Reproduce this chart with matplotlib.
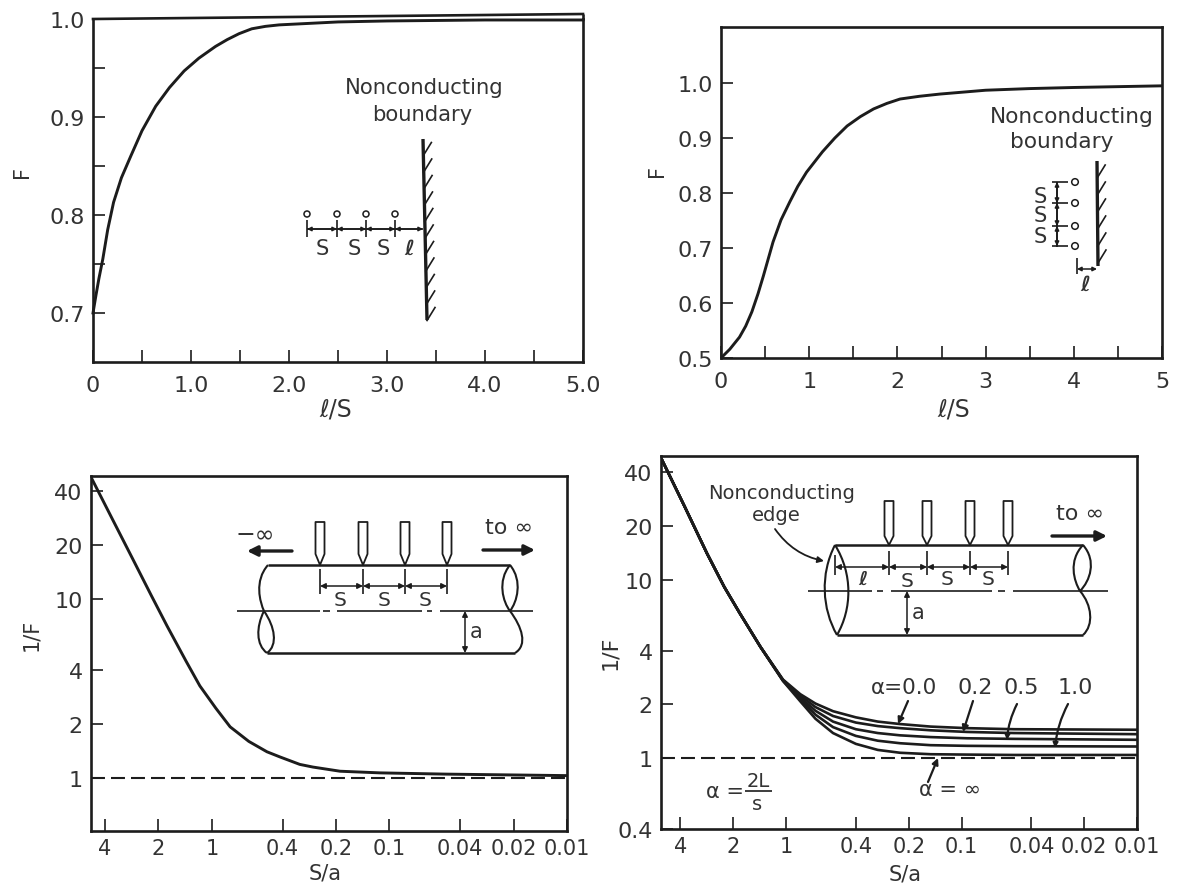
""" Four figures of the correction factor F for probes near nonconducting boundaries.
"""
import matplotlib.pyplot as plt
from matplotlib.patches import Circle, PathPatch
from matplotlib.path import Path

W, H = 1183, 887
INK = '#1c1c1c'
TEXT = '#333333'

# Panel A: F against l/S, line perpendicular to the boundary
a_x = [0, 0.03, 0.06, 0.1, 0.15, 0.21, 0.29, 0.385, 0.5, 0.64, 0.78, 0.93, 1.08, 1.25, 1.37, 1.49, 1.62, 1.76, 1.9, 2.1, 2.5, 3, 4, 5]
a_f = [0.70, 0.718, 0.735, 0.755, 0.785, 0.813, 0.838, 0.86, 0.886, 0.911, 0.93, 0.947, 0.96, 0.972, 0.979, 0.985, 0.99, 0.9925, 0.994, 0.995, 0.997, 0.998, 0.999, 0.999]
a_yticks = [0.7, 0.75, 0.8, 0.85, 0.9, 0.95, 1.0]
a_ylabels = ['0.7', '', '0.8', '', '0.9', '', '1.0']
a_xticks = [0, 0.5, 1, 1.5, 2, 2.5, 3, 3.5, 4, 4.5, 5]
a_xlabels = ['0', '', '1.0', '', '2.0', '', '3.0', '', '4.0', '', '5.0']

# Panel B: F against l/S, line parallel to the boundary
b_x = [0, 0.1, 0.21, 0.28, 0.35, 0.42, 0.48, 0.59, 0.68, 0.78, 0.87, 0.97, 1.15, 1.29, 1.43, 1.58, 1.73, 1.88, 2.03, 2.25, 2.48, 3, 3.5, 4, 5]
b_f = [0.5, 0.516, 0.538, 0.558, 0.584, 0.617, 0.649, 0.711, 0.751, 0.784, 0.812, 0.838, 0.875, 0.9, 0.922, 0.939, 0.953, 0.963, 0.971, 0.976, 0.98, 0.987, 0.99, 0.992, 0.995]
b_yticks = [0.5, 0.6, 0.7, 0.8, 0.9, 1.0]
b_ylabels = ['0.5', '0.6', '0.7', '0.8', '0.9', '1.0']
b_xticks = [0, 0.5, 1, 1.5, 2, 2.5, 3, 3.5, 4, 4.5, 5]
b_xlabels = ['0', '', '1', '', '2', '', '3', '', '4', '', '5']

# Shared log axes of the bottom panels
sa_ticks = [4, 2, 1, 0.4, 0.2, 0.1, 0.04, 0.02, 0.01]
sa_labels = ['4', '2', '1', '0.4', '0.2', '0.1', '0.04', '0.02', '0.01']

# Panel C: 1/F against S/a, infinite rod
c_x = [4.8, 3.6, 2.79, 2.2, 1.79, 1.4, 1.17, 0.95, 0.79, 0.62, 0.49, 0.414, 0.32, 0.27, 0.19, 0.113, 0.048, 0.01]
c_y = [48, 27.4, 16.7, 10.5, 7.07, 4.5, 3.27, 2.45, 1.93, 1.6, 1.40, 1.31, 1.19, 1.15, 1.09, 1.067, 1.05, 1.03]
c_yticks = [1, 2, 4, 10, 20, 40]
c_ylabels = ['1', '2', '4', '10', '20', '40']

# Panel D: 1/F against S/a, semi-infinite rod, one curve per alpha
d_x = [5.1, 3.8, 2.82, 2.25, 1.83, 1.4, 1.04, 0.83, 0.68, 0.54, 0.4, 0.3, 0.224, 0.15, 0.093, 0.05, 0.01]
d_alpha0 = [47, 25.9, 14, 9.1, 6.45, 4.2, 2.75, 2.28, 2.02, 1.83, 1.69, 1.6, 1.55, 1.5, 1.47, 1.45, 1.44]
d_alpha02 = [47, 25.9, 14, 9.1, 6.45, 4.2, 2.73, 2.24, 1.93, 1.72, 1.58, 1.51, 1.47, 1.43, 1.40, 1.38, 1.36]
d_alpha05 = [47, 25.9, 14, 9.1, 6.45, 4.2, 2.72, 2.19, 1.84, 1.6, 1.45, 1.38, 1.34, 1.31, 1.29, 1.28, 1.265]
d_alpha1 = [47, 25.9, 14, 9.1, 6.45, 4.2, 2.71, 2.14, 1.75, 1.49, 1.33, 1.25, 1.21, 1.18, 1.17, 1.165, 1.16]
d_alphainf = [47, 25.9, 14, 9.1, 6.45, 4.2, 2.70, 2.08, 1.66, 1.38, 1.2, 1.11, 1.07, 1.05, 1.045, 1.04, 1.04]
d_yticks = [0.4, 1, 2, 4, 10, 20, 40]
d_ylabels = ['0.4', '1', '2', '4', '10', '20', '40']


def axes_px(fig, left, top, right, bottom):
    """ Add axes placed by pixel edges of the reference.
    """
    ax = fig.add_axes([left / W, 1 - bottom / H, (right - left) / W, (bottom - top) / H])
    for spine in ax.spines.values():
        spine.set_linewidth(1.9)
        spine.set_color(INK)
    ax.tick_params(which='major', direction='in', length=8.6, width=1.2, color=INK,
                   labelsize=16, labelcolor=TEXT, pad=6)
    ax.tick_params(which='minor', length=0)
    return ax


def set_log_axes(ax, xlim, ylim, yticks, ylabels):
    ax.set_xscale('log')
    ax.set_yscale('log')
    ax.set_xlim(xlim)
    ax.set_ylim(ylim)
    ax.set_xticks(sa_ticks, sa_labels)
    ax.set_yticks(yticks, ylabels)
    ax.minorticks_off()
    ax.tick_params(axis='x', labelsize=15, pad=5)


def hline(ov, x0, x1, y, lw=1.2):
    ov.plot([x0, x1], [y, y], color=INK, lw=lw, solid_capstyle='butt')


def vline(ov, x, y0, y1, lw=1.2):
    ov.plot([x, x], [y0, y1], color=INK, lw=lw, solid_capstyle='butt')


def arrow(ov, start, end, lw=1.1, scale=8, style='-|>', rad=0.0):
    ov.annotate('', xy=end, xytext=start,
                arrowprops=dict(arrowstyle=style, color=INK, lw=lw, mutation_scale=scale,
                                shrinkA=0, shrinkB=0, connectionstyle=f'arc3,rad={rad}'))


def label(ov, x, y, text, size=14, **kwargs):
    ov.text(x, y, text, fontsize=size, color=TEXT, ha='center', va='center', **kwargs)


def curve(ov, points, lw=1.5):
    """ Draw one cubic bezier given its four control points.
    """
    codes = [Path.MOVETO, Path.CURVE4, Path.CURVE4, Path.CURVE4]
    ov.add_patch(PathPatch(Path(points, codes), fill=False, edgecolor=INK, lw=lw))


def boundary(ov, x0, y0, x1, y1, step, dx, dy):
    ov.plot([x0, x1], [y0, y1], color=INK, lw=2.4, solid_capstyle='butt')
    y = y0 + step
    while y <= y1 + 1:
        x = x0 + (x1 - x0) * (y - y0) / (y1 - y0)
        ov.plot([x, x + dx], [y, y - dy], color=INK, lw=1.2)
        y += step


def probe(ov, x, top, shoulder, tip, half=4.5):
    ov.plot([x, x - half, x - half, x + half, x + half, x],
            [tip, shoulder, top, top, shoulder, tip], color=INK, lw=1.3)


def draw_inset_a(ov):
    label(ov, 424, 88, 'Nonconducting', size=15.2)
    label(ov, 422, 115, 'boundary', size=15.2)
    boundary(ov, 423, 140, 427, 321, 16.5, 8, 13)
    hline(ov, 307, 423, 230)
    for x in [307, 337, 366, 395]:
        ov.add_patch(Circle((x, 215), 3, fill=False, edgecolor=INK, lw=1.1))
        vline(ov, x, 221, 238)
    for x0, x1 in [(307, 337), (337, 366), (366, 395), (395, 423)]:
        arrow(ov, (x0, 230), (x1, 230), style='<|-|>', scale=6)
    for x, text in [(322, 'S'), (354, 'S'), (383, 'S')]:
        label(ov, x, 249, text, size=15)
    label(ov, 409, 249, 'ℓ', size=15, fontweight='bold', style='italic')


def draw_inset_b(ov):
    label(ov, 1072, 117, 'Nonconducting', size=15.6)
    label(ov, 1062, 142, 'boundary', size=15.6)
    boundary(ov, 1097, 162, 1098, 267, 17, 8, 13)
    vline(ov, 1057, 183, 248, lw=1.3)
    for y in [183, 204, 227, 247]:
        ov.add_patch(Circle((1075, y), 3.3, fill=False, edgecolor=INK, lw=1.1))
        hline(ov, 1052, 1068, y)
    for y0, y1 in [(183, 204), (204, 227), (227, 247)]:
        arrow(ov, (1057, y0), (1057, y1), style='<|-|>', scale=6)
    for y in [197, 216, 237]:
        label(ov, 1040, y, 'S', size=15)
    vline(ov, 1077, 259, 275)
    arrow(ov, (1077, 270), (1097, 270), style='<|-|>', scale=6)
    label(ov, 1085, 285, 'ℓ', size=15, fontweight='bold', style='italic')


def draw_inset_c(ov):
    for x in [320, 363, 405, 447]:
        probe(ov, x, 523, 555, 566)
        vline(ov, x, 570, 595)
    hline(ov, 268, 510, 566, lw=1.8)
    hline(ov, 267, 515, 654, lw=1.8)
    for x0, x1 in [(237, 320), (323, 330), (337, 422), (427, 432), (440, 533)]:
        hline(ov, x0, x1, 612, lw=1.2)
    curve(ov, [(268, 566), (254, 582), (260, 603), (264, 612)])
    curve(ov, [(264, 612), (275, 628), (278, 646), (267, 654)])
    curve(ov, [(264, 612), (256, 628), (256, 646), (267, 654)])
    curve(ov, [(510, 566), (497, 582), (503, 603), (510, 612)])
    curve(ov, [(510, 566), (523, 582), (517, 603), (510, 612)])
    curve(ov, [(510, 612), (522, 628), (528, 646), (515, 654)])
    for x0, x1 in [(320, 363), (363, 405), (405, 447)]:
        arrow(ov, (x0, 587), (x1, 587), style='<|-|>', scale=8)
    for x, text in [(340, 'S'), (384, 'S'), (425, 'S')]:
        label(ov, x, 601, text, size=14.5)
    arrow(ov, (465, 612), (465, 654), style='<|-|>', scale=8)
    label(ov, 476, 632, 'a', size=15)
    label(ov, 255, 535, '−∞', size=17)
    arrow(ov, (292, 552), (247, 552), lw=2.4, scale=15)
    label(ov, 509, 528, 'to ∞', size=16)
    arrow(ov, (483, 551), (535, 551), lw=2.4, scale=15)


def draw_inset_d(ov):
    label(ov, 782, 494, 'Nonconducting', size=14)
    label(ov, 776, 516, 'edge', size=14)
    arrow(ov, (775, 530), (824, 562), lw=1.3, scale=9, rad=0.2)
    for x in [889, 927, 970, 1008]:
        probe(ov, x, 502, 537, 546)
        vline(ov, x, 552, 576)
    vline(ov, 835, 556, 576)
    hline(ov, 835, 1083, 546, lw=1.8)
    hline(ov, 837, 1083, 636, lw=1.8)
    for x0, x1 in [(808, 872), (877, 883), (891, 992), (998, 1005), (1013, 1108)]:
        hline(ov, x0, x1, 592, lw=1.2)
    curve(ov, [(835, 546), (820, 575), (822, 610), (837, 636)])
    curve(ov, [(835, 546), (853, 575), (852, 610), (837, 636)])
    curve(ov, [(1083, 546), (1068, 562), (1074, 582), (1080, 592)])
    curve(ov, [(1083, 546), (1097, 562), (1090, 582), (1080, 592)])
    curve(ov, [(1080, 592), (1092, 606), (1094, 626), (1083, 636)])
    for x0, x1 in [(835, 889), (889, 927), (927, 970), (970, 1008)]:
        arrow(ov, (x0, 568), (x1, 568), style='<|-|>', scale=8)
    label(ov, 863, 579, 'ℓ', size=14, fontweight='bold', style='italic')
    for x, y in [(907, 582), (947, 580), (988, 580)]:
        label(ov, x, y, 'S', size=14.5)
    arrow(ov, (907, 592), (907, 636), style='<|-|>', scale=8)
    label(ov, 918, 613, 'a', size=15)
    label(ov, 1080, 514, 'to ∞', size=16)
    arrow(ov, (1052, 537), (1107, 537), lw=2.4, scale=15)

    label(ov, 904, 688, 'α=0.0', size=15.5)
    label(ov, 975, 688, '0.2', size=16)
    label(ov, 1021, 688, '0.5', size=16)
    label(ov, 1075, 688, '1.0', size=16)
    arrow(ov, (908, 702), (898, 725), lw=1.6, scale=9)
    arrow(ov, (973, 702), (963, 733), lw=1.6, scale=9)
    arrow(ov, (1017, 705), (1007, 741), lw=1.6, scale=7, rad=0.1)
    arrow(ov, (1068, 705), (1055, 749), lw=1.6, scale=7, rad=0.1)
    label(ov, 950, 790, 'α = ∞', size=15)
    arrow(ov, (928, 783), (938, 759), lw=1.6, scale=9)
    label(ov, 725, 792, 'α =', size=15)
    label(ov, 758, 782, '2L', size=14)
    hline(ov, 745, 772, 792, lw=1.2)
    label(ov, 757, 805, 's', size=14)


def main():
    fig = plt.figure(figsize=(W / 100, H / 100), dpi=100)

    ax_a = axes_px(fig, 93, 20, 583, 363)
    ax_a.plot(a_x, a_f, color=INK, lw=2.1, clip_on=False)
    ax_a.set_xlim(0, 5)
    ax_a.set_ylim(0.65, 1.0)
    ax_a.set_xticks(a_xticks, a_xlabels)
    ax_a.set_yticks(a_yticks, a_ylabels)
    ax_a.tick_params(axis='x', pad=9)
    ax_a.spines['top'].set_visible(False)

    ax_b = axes_px(fig, 721, 28, 1162, 359)
    ax_b.plot(b_x, b_f, color=INK, lw=2.1)
    ax_b.set_xlim(0, 5)
    ax_b.set_ylim(0.5, 1.102)
    ax_b.set_xticks(b_xticks, b_xlabels)
    ax_b.set_yticks(b_yticks, b_ylabels)
    ax_b.tick_params(axis='x', pad=9)

    ax_c = axes_px(fig, 91, 477, 567, 832)
    ax_c.plot(c_x, c_y, color=INK, lw=2.1)
    ax_c.axhline(1, color=INK, lw=1.5, dashes=(6.7, 2.9))
    set_log_axes(ax_c, (4.8, 0.01), (0.505, 48.7), c_yticks, c_ylabels)

    ax_d = axes_px(fig, 661, 457, 1137, 830)
    for ys in [d_alpha0, d_alpha02, d_alpha05, d_alpha1, d_alphainf]:
        ax_d.plot(d_x, ys, color=INK, lw=1.9)
    ax_d.axhline(1, color=INK, lw=1.5, dashes=(6.7, 2.9))
    set_log_axes(ax_d, (5.16, 0.01), (0.406, 49.3), d_yticks, d_ylabels)

    # Overlay in reference pixels for the schematics and hand placed axis titles.
    ov = fig.add_axes([0, 0, 1, 1], zorder=5)
    ov.set_xlim(0, W)
    ov.set_ylim(H, 0)
    ov.axis('off')

    ov.plot([93, 583], [20, 15], color=INK, lw=1.9, solid_capstyle='projecting')
    vline(ov, 583, 15, 21, lw=1.9)

    label(ov, 22, 172, 'F', size=15, rotation=90)
    label(ov, 657, 171, 'F', size=15, rotation=90)
    label(ov, 31, 635, '1/F', size=15, rotation=90)
    label(ov, 610, 653, '1/F', size=16, rotation=90)
    label(ov, 336, 410, 'ℓ/S', size=17)
    label(ov, 954, 410, 'ℓ/S', size=17)
    label(ov, 325, 874, 'S/a', size=15)
    label(ov, 905, 875, 'S/a', size=15)

    draw_inset_a(ov)
    draw_inset_b(ov)
    draw_inset_c(ov)
    draw_inset_d(ov)

    fig.savefig('out.png', dpi=100)


if __name__ == '__main__':
    main()
